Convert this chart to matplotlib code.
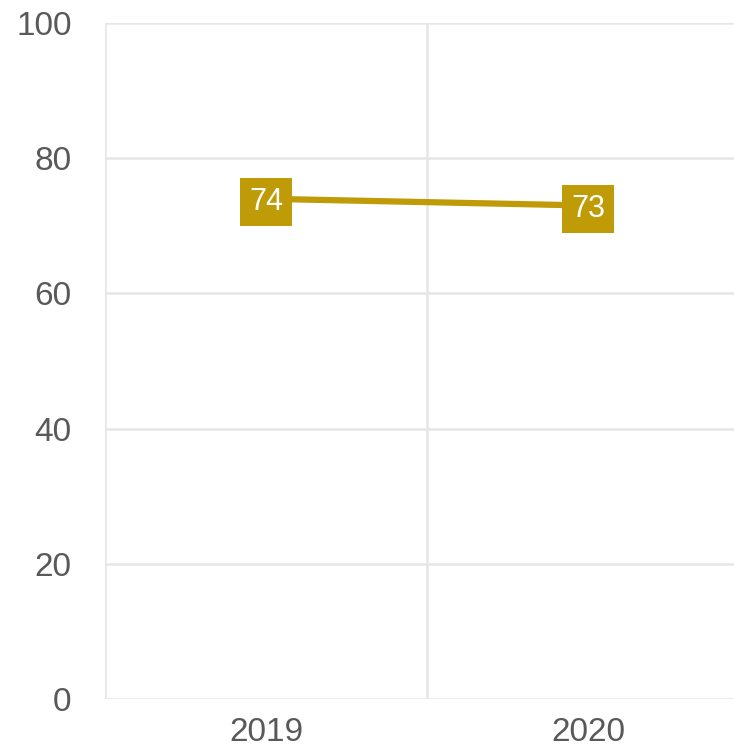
import matplotlib.pyplot as plt
from matplotlib.ticker import FixedLocator

years = ['2019', '2020']
values = [74, 73]
y_ticks = [0, 20, 40, 60, 80, 100]

gold = '#bf9b07'
grid_col = '#e6e6e6'
text_col = '#595959'

plt.rcParams['font.family'] = ['Liberation Sans', 'DejaVu Sans']

W, H = 734, 749
fig = plt.figure(figsize=(W / 100, H / 100), dpi=100)
ax = fig.add_axes([105 / W, 1 - 699 / H, 1 - 105 / W, (699 - 23) / H])

x = list(range(len(years)))
ax.plot(x, values, color=gold, lw=4.5, solid_capstyle='butt', zorder=3)
for xi, v in zip(x, values):
    ax.text(xi, v, str(v), ha='center', va='center_baseline', color='white',
            fontsize=22, zorder=4,
            bbox=dict(boxstyle='square,pad=0.3', fc=gold, ec='none'))

ax.set_ylim(0, 100)
ax.set_xlim(-0.5, 1.453)
ax.set_yticks(y_ticks)
ax.set_xticks(x)
ax.set_xticklabels(years)
ax.xaxis.set_minor_locator(FixedLocator([-0.5, 0.5, 1.5]))

ax.grid(axis='y', which='major', color=grid_col, lw=1.8)
ax.grid(axis='x', which='minor', color=grid_col, lw=1.8)
ax.grid(axis='x', which='major', visible=False)
ax.set_axisbelow(True)

for s in ax.spines.values():
    s.set_visible(False)
ax.tick_params(axis='both', which='both', length=0, labelsize=24, colors=text_col)
ax.tick_params(axis='y', pad=24)
ax.tick_params(axis='x', pad=13)

fig.savefig('out.png', dpi=100)
